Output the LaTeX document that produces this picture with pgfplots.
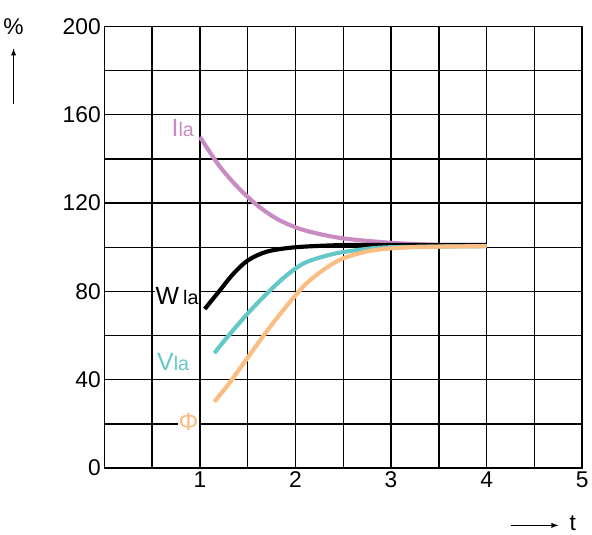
\documentclass[border=0pt]{standalone}
\usepackage{pgfplots}
\pgfplotsset{compat=1.18}
\usepackage{fontspec}
\setmainfont{Liberation Sans}
\definecolor{cI}{RGB}{200,140,195}
\definecolor{cV}{RGB}{100,200,200}
\definecolor{cP}{RGB}{250,190,130}
\begin{document}
\begin{tikzpicture}
\begin{axis}[
 width=460bp, height=425bp, scale only axis,
 xmin=0, xmax=5, ymin=0, ymax=200,
 xtick={0,1,2,3,4,5}, xticklabels={,1,2,3,4,5},
 ytick={0,40,80,120,160,200},
 minor x tick num=1, minor y tick num=1,
 grid=both, grid style={black, line width=1.3pt}, minor grid style={black, line width=1.3pt},
 axis line style={line width=1.5pt},
 tick style={draw=none},
 /pgf/number format/assume math mode=true,
 ticklabel style={font=\fontsize{22}{26}\selectfont},
 clip=false,
]
\addplot[cI, line width=4pt, smooth] coordinates {(1,150)(1.2,137)(1.4,127)(1.6,119)(1.8,113)(2,109)(2.2,106.5)(2.5,104)(3,102)(3.5,101)(4,100.5)};
\addplot[black, line width=4pt, smooth] coordinates {(1.05,72)(1.2,80)(1.35,88)(1.5,94)(1.7,98)(2,100)(2.5,101)(3,101)(4,101)};
\addplot[cV, line width=4pt, smooth] coordinates {(1.15,52)(1.3,60)(1.5,70)(1.7,79)(1.9,87)(2.1,93)(2.4,97)(2.7,99)(3,100)(4,100.5)};
\addplot[cP, line width=4pt, smooth] coordinates {(1.15,30)(1.3,38)(1.5,50)(1.7,62)(1.9,73)(2.1,83)(2.3,90)(2.5,95)(2.8,98.5)(3.2,100)(4,100.5)};
\node[fill=white, inner sep=1pt, text=cI, font=\fontsize{24}{28}\selectfont] at (axis cs:0.82,154) {I\fontsize{19}{22}\selectfont la};
\node[fill=white, inner sep=1pt, text=black, font=\fontsize{24}{28}\selectfont] at (axis cs:0.76,78) {W\,\fontsize{19}{22}\selectfont la};
\node[fill=white, inner sep=1pt, text=cV, font=\fontsize{24}{28}\selectfont] at (axis cs:0.72,48) {V\fontsize{19}{22}\selectfont la};
\node[fill=white, inner sep=1pt, text=cP, font=\fontsize{24}{28}\selectfont] at (axis cs:0.88,21) {Φ};
\node[font=\fontsize{22}{26}\selectfont] at (axis cs:-0.95,200) {\%};
\draw[-latex, line width=1.3pt] (axis cs:-0.95,165) -- (axis cs:-0.95,190);
\draw[-latex, line width=1.3pt] (axis cs:4.25,-26) -- (axis cs:4.75,-26);
\node[font=\fontsize{22}{26}\selectfont] at (axis cs:4.9,-25) {t};
\path (axis cs:0,212) (axis cs:0,-30);
\end{axis}
\end{tikzpicture}
\end{document}
